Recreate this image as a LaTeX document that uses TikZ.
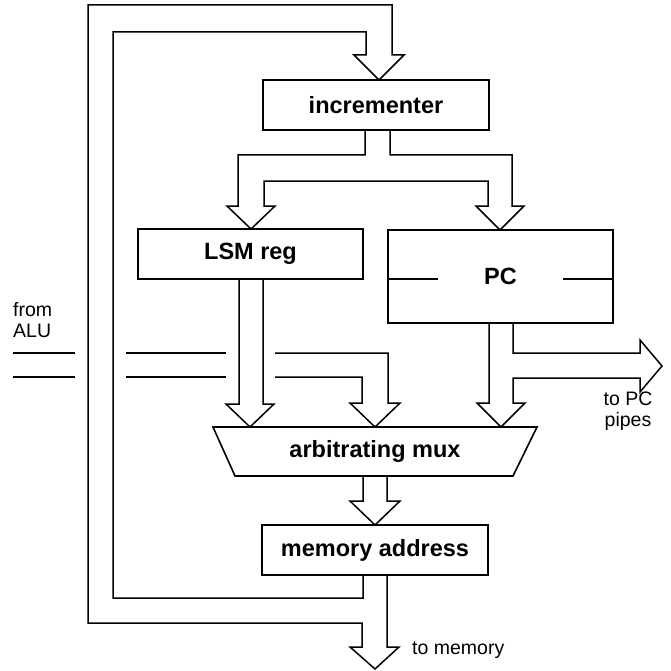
\documentclass[tikz,border=0pt]{standalone}
\usepackage{fontspec}
\setmainfont{Liberation Sans}
\begin{document}
\begin{tikzpicture}[x=1pt,y=-1pt,
  bus/.style={line width=1.5pt,line join=miter},
  boxnode/.style={draw,line width=1.6pt,inner sep=0pt,font=\bfseries\fontsize{23.5}{26}\selectfont},
  boldlab/.style={inner sep=0pt,font=\bfseries\fontsize{23.5}{26}\selectfont},
  lab/.style={inner sep=0pt,font=\fontsize{19.5}{21}\selectfont}]
\useasboundingbox (0,0) rectangle (671,671);

% blocks
\node[boxnode,minimum width=226pt,minimum height=50pt] (inc) at (376,105) {incrementer};
\node[boxnode,minimum width=225pt,minimum height=50pt] (lsm) at (250.5,254) {LSM reg};
\node[boxnode,minimum width=225pt,minimum height=93pt] (pc) at (500.5,276.5) {PC};
\draw[bus] (pc.west |- 0,279) -- (438,279);
\draw[bus] (563,279) -- (pc.east |- 0,279);
\draw[bus,line width=1.6pt] (213,427) -- (537,427) -- (513,476) -- (235,476) -- cycle;
\node[boldlab] (mux) at (375,451) {arbitrating mux};
\node[boxnode,minimum width=226pt,minimum height=50pt] (mem) at (375,550) {memory address};

% feedback loops and output to memory
\draw[bus] (387,575) -- (387,647) -- (399,647) -- (375,669) -- (350,647) -- (362,647)
  -- (362,623) -- (88,623) -- (88,5) -- (392,5) -- (392,55) -- (404,55) -- (379,80)
  -- (354,55) -- (366,55) -- (366,32) -- (113,32) -- (113,598) -- (363,598) -- (363,575);

% incrementer outputs to LSM reg and PC
\draw[bus] (365,130) -- (365,155) -- (238,155) -- (238,206) -- (227,206) -- (251,229)
  -- (275,206) -- (264,206) -- (264,181) -- (488,181) -- (488,206) -- (476,206)
  -- (500,230) -- (524,206) -- (512,206) -- (512,155) -- (390,155) -- (390,130);

% LSM reg to mux
\draw[bus] (239,279) -- (239,404) -- (226,404) -- (250,427) -- (274,404) -- (263,404) -- (263,279);

% PC to mux and to PC pipes
\draw[bus] (489,323) -- (489,403) -- (477,403) -- (501,427) -- (525,403) -- (513,403)
  -- (513,378) -- (640,378) -- (640,392) -- (662,366) -- (640,340) -- (640,353)
  -- (513,353) -- (513,323);

% from ALU bus
\draw[bus] (13,353) -- (75,353);
\draw[bus] (13,377) -- (75,377);
\draw[bus] (126,353) -- (226,353);
\draw[bus] (126,377) -- (226,377);
\draw[bus] (275,353) -- (388,353) -- (388,403) -- (400,403) -- (375,427) -- (350,403)
  -- (362,403) -- (362,377) -- (275,377);

% mux to memory address
\draw[bus] (363,476) -- (363,501) -- (350,501) -- (375,525) -- (400,501) -- (387,501) -- (387,476);

% labels
\node[lab,anchor=west,align=left] (alu) at (13,320) {from\\ALU};
\node[lab,align=center] (pipes) at (628,411) {to PC\\pipes};
\node[lab,anchor=west] (tomem) at (412,650) {to memory};
\end{tikzpicture}
\end{document}
